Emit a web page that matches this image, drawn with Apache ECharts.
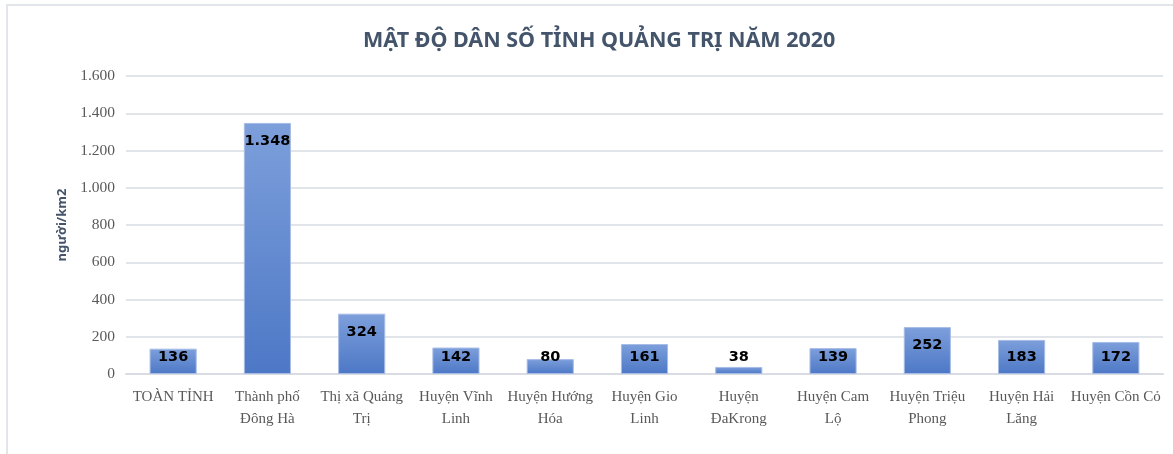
<!DOCTYPE html>
<html>
<head>
<meta charset="utf-8">
<script src="https://cdn.jsdelivr.net/npm/echarts@6/dist/echarts.min.js"></script>
<style>
    body { margin: 0; background: #fff; overflow: hidden; }
    #frame {
        position: absolute; left: 6px; top: 4px; width: 1200px; height: 480px;
        border-left: 2px solid #e2e5ea; border-top: 2px solid #e2e5ea;
    }
    #chart { position: absolute; left: 0; top: 0; width: 1173px; height: 454px; }
</style>
</head>
<body>
<div id="frame"></div>
<div id="chart"></div>
<script>
const title = 'MẬT ĐỘ DÂN SỐ TỈNH QUẢNG TRỊ NĂM 2020';
const unitName = 'người/km2';
const categories = [
    'TOÀN TỈNH',
    'Thành phố\nĐông Hà',
    'Thị xã Quảng\nTrị',
    'Huyện Vĩnh\nLinh',
    'Huyện Hướng\nHóa',
    'Huyện Gio\nLinh',
    'Huyện\nĐaKrong',
    'Huyện Cam\nLộ',
    'Huyện Triệu\nPhong',
    'Huyện Hải\nLăng',
    'Huyện Cồn Cỏ'
];
const density = [136, 1348, 324, 142, 80, 161, 38, 139, 252, 183, 172];

// Excel style thousands separator: 1.348
const fmt = v => String(v).replace(/\B(?=(\d{3})+(?!\d))/g, '.');

const chart = echarts.init(document.getElementById('chart'));

const barData = density.map(v => ({
    value: v,
    label: v >= 200
        ? { position: 'insideTop', distance: 11 }
        : { position: 'insideBottom', distance: 9 }
}));

chart.setOption({
    animation: false,
    title: {
        text: title,
        left: 358,
        top: 25,
        textStyle: {
            fontFamily: '"Noto Sans", sans-serif',
            fontWeight: 'bold',
            fontSize: 21.5,
            color: '#44546a'
        }
    },
    grid: {
        left: 126,
        right: 10,
        top: 76,
        bottom: 80
    },
    xAxis: {
        type: 'category',
        data: categories,
        axisLine: { lineStyle: { color: '#d9dde3', width: 2 } },
        axisTick: { show: false },
        axisLabel: {
            interval: 0,
            margin: 12,
            fontFamily: '"Liberation Serif", "DejaVu Serif", serif',
            fontSize: 15,
            lineHeight: 22,
            color: '#595959'
        }
    },
    yAxis: {
        type: 'value',
        min: 0,
        max: 1600,
        interval: 200,
        name: unitName,
        nameLocation: 'middle',
        nameGap: 45,
        nameTextStyle: {
            fontFamily: '"Noto Sans", sans-serif',
            fontWeight: 'bold',
            fontSize: 13,
            color: '#44546a'
        },
        axisLine: { show: false },
        axisTick: { show: false },
        splitLine: { lineStyle: { color: '#e1e4e9', width: 2 } },
        axisLabel: {
            margin: 11,
            formatter: fmt,
            fontFamily: '"Liberation Serif", "DejaVu Serif", serif',
            fontSize: 15.5,
            color: '#595959'
        }
    },
    series: [{
        type: 'bar',
        data: barData,
        barWidth: '50%',
        itemStyle: {
            color: new echarts.graphic.LinearGradient(0, 0, 0, 1, [
                { offset: 0, color: '#7d9fdb' },
                { offset: 1, color: '#4d78c6' }
            ]),
            borderColor: '#a8bde6',
            borderWidth: 1
        },
        label: {
            show: true,
            formatter: p => fmt(p.value),
            fontFamily: '"DejaVu Sans", sans-serif',
            fontWeight: 'bold',
            fontSize: 14.5,
            color: '#000'
        }
    }]
});
</script>
</body>
</html>
